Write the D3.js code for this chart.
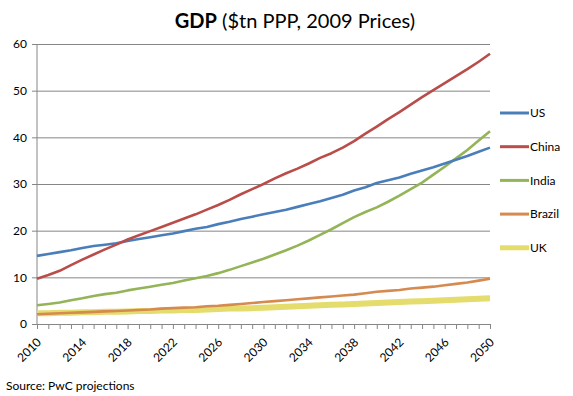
<!DOCTYPE html>
<meta charset="utf-8">
<head>
    <title>GDP projections</title>
    <script type="text/javascript" src="https://d3js.org/d3.v7.min.js"></script>
    <style>
        body { margin: 0; background: #fff; }
        svg text { font-family: Lato, "Open Sans", sans-serif; fill: #000; }
    </style>
</head>
<body>
    <div id="chart"></div>
    <script>
        // chart data
        var years = d3.range(2010, 2051);
        var tickYears = [2010, 2014, 2018, 2022, 2026, 2030, 2034, 2038, 2042, 2046, 2050];
        var yTicks = [0, 10, 20, 30, 40, 50, 60];

        var us = [14.6, 15.0, 15.4, 15.8, 16.3, 16.7, 17.0, 17.3, 17.8, 18.2,
            18.6, 19.0, 19.4, 19.9, 20.4, 20.8, 21.4, 21.9, 22.5, 23.0,
            23.5, 24.0, 24.5, 25.1, 25.7, 26.3, 27.0, 27.7, 28.6, 29.3,
            30.2, 30.8, 31.4, 32.2, 32.9, 33.6, 34.4, 35.2, 36.0, 36.9, 37.8];
        var china = [9.7, 10.5, 11.4, 12.6, 13.8, 14.9, 16.0, 17.0, 18.1, 19.0,
            19.9, 20.8, 21.7, 22.6, 23.5, 24.5, 25.5, 26.6, 27.8, 28.9,
            30.0, 31.2, 32.3, 33.3, 34.4, 35.6, 36.6, 37.8, 39.2, 40.8,
            42.3, 43.9, 45.4, 47.0, 48.6, 50.1, 51.6, 53.1, 54.6, 56.2, 57.9];
        var india = [4.0, 4.3, 4.6, 5.1, 5.5, 6.0, 6.4, 6.7, 7.2, 7.6,
            8.0, 8.4, 8.8, 9.3, 9.8, 10.3, 10.9, 11.6, 12.4, 13.2,
            14.0, 14.9, 15.8, 16.8, 17.9, 19.1, 20.3, 21.6, 22.9, 24.0,
            25.0, 26.2, 27.5, 28.9, 30.3, 32.0, 33.7, 35.5, 37.3, 39.3, 41.3];
        var brazil = [2.1, 2.2, 2.3, 2.4, 2.5, 2.6, 2.7, 2.8, 2.9, 3.0,
            3.1, 3.3, 3.4, 3.5, 3.6, 3.8, 3.9, 4.1, 4.3, 4.5,
            4.7, 4.9, 5.1, 5.3, 5.5, 5.7, 5.9, 6.1, 6.3, 6.6,
            6.9, 7.1, 7.3, 7.6, 7.8, 8.0, 8.3, 8.6, 8.9, 9.3, 9.7];
        var uk = [2.3, 2.3, 2.4, 2.4, 2.5, 2.5, 2.6, 2.6, 2.7, 2.8,
            2.8, 2.9, 2.9, 3.0, 3.0, 3.1, 3.2, 3.3, 3.3, 3.4,
            3.5, 3.6, 3.7, 3.8, 3.9, 4.0, 4.1, 4.2, 4.3, 4.4,
            4.5, 4.6, 4.7, 4.8, 4.9, 5.0, 5.1, 5.2, 5.3, 5.4, 5.5];

        var seriesNames = ["US", "China", "India", "Brazil", "UK"];
        var seriesValues = [us, china, india, brazil, uk];
        var seriesColors = ["#4a7ebb", "#b94d4a", "#93b457", "#d58a4f", "#e4dc6c"];
        var seriesWidths = [2.6, 2.6, 2.6, 2.6, 6];

        var width = 573, height = 396;
        var margin = { top: 44, right: 83, bottom: 72, left: 37 };

        var svg = d3.select("#chart")
            .append("svg")
            .attr("width", width)
            .attr("height", height);

        var x = d3.scaleLinear()
            .domain([2010, 2050])
            .range([margin.left, width - margin.right]);

        var y = d3.scaleLinear()
            .domain([0, 60])
            .range([height - margin.bottom, margin.top]);

        // gridlines + y labels
        svg.append("g")
            .attr("transform", "translate(" + margin.left + ",0)")
            .call(d3.axisLeft(y).tickValues(yTicks).tickSize(-(x.range()[1] - margin.left)).tickSizeOuter(0).tickPadding(10))
            .call(function (g) {
                g.select(".domain").remove();
                g.selectAll(".tick line").attr("stroke", "#868686").attr("x1", -5);
                g.selectAll(".tick text").attr("font-size", 12).style("font-family", "Lato, sans-serif");
            });

        // y axis line
        svg.append("line")
            .attr("x1", margin.left).attr("x2", margin.left)
            .attr("y1", y(60)).attr("y2", y(0))
            .attr("stroke", "#868686");

        // x axis with yearly ticks
        svg.append("g")
            .attr("transform", "translate(0," + y(0) + ")")
            .call(d3.axisBottom(x).tickValues(years).tickSize(5).tickSizeOuter(0).tickFormat(""))
            .call(function (g) {
                g.select(".domain").attr("stroke", "#868686");
                g.selectAll(".tick line").attr("stroke", "#868686");
            });

        svg.append("g")
            .selectAll("text")
            .data(tickYears)
            .join("text")
            .attr("transform", function (d) { return "translate(" + (x(d) + 2) + "," + (y(0) + 16) + ") rotate(-45)"; })
            .attr("text-anchor", "end")
            .attr("dy", "0.35em")
            .attr("font-size", 12)
            .text(function (d) { return d; });

        // lines (UK drawn first so it sits under the others)
        var line = d3.line()
            .x(function (d, i) { return x(years[i]); })
            .y(function (d) { return y(d); });

        var order = [4, 3, 2, 0, 1];
        order.forEach(function (k) {
            svg.append("path")
                .datum(seriesValues[k])
                .attr("fill", "none")
                .attr("stroke", seriesColors[k])
                .attr("stroke-width", seriesWidths[k])
                .attr("stroke-linejoin", "round")
                .attr("d", line);
        });

        // legend
        var legend = svg.append("g").attr("transform", "translate(500,113)");
        seriesNames.forEach(function (name, i) {
            var row = legend.append("g").attr("transform", "translate(0," + (i * 33.7) + ")");
            row.append("line")
                .attr("x1", 0).attr("x2", 29)
                .attr("stroke", seriesColors[i])
                .attr("stroke-width", i == 4 ? 5 : 3);
            row.append("text")
                .attr("x", 30)
                .attr("dy", "0.35em")
                .attr("font-size", 12)
                .text(name);
        });

        // title
        var title = svg.append("text")
            .attr("x", 295)
            .attr("y", 28)
            .attr("text-anchor", "middle")
            .attr("font-size", 20);
        title.append("tspan").attr("font-weight", "bold").text("GDP");
        title.append("tspan").text(" ($tn PPP, 2009 Prices)");

        svg.append("text")
            .attr("x", 6)
            .attr("y", 390)
            .attr("font-size", 12)
            .text("Source: PwC projections");
    </script>
</body>
</html>
